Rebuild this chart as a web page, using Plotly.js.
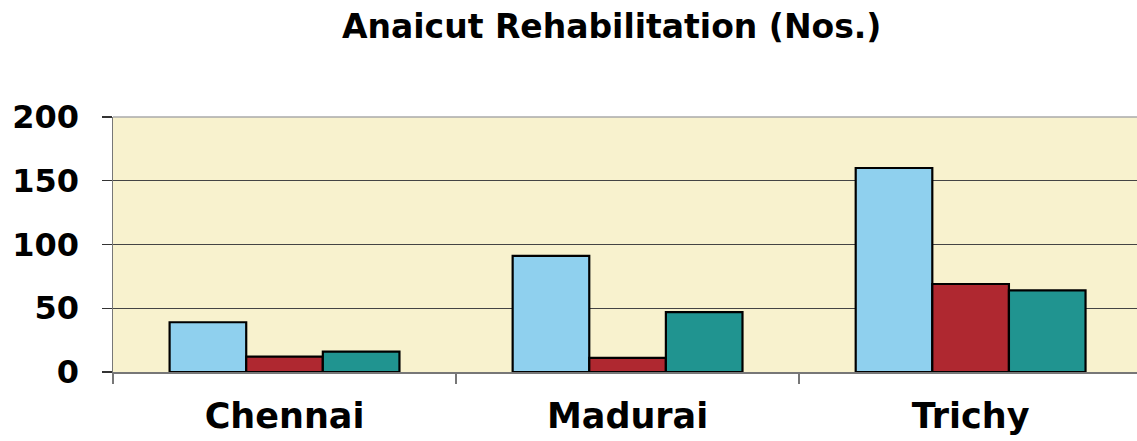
<!DOCTYPE html>
<html>
<head>
<meta charset="utf-8">
<script src="https://cdn.plot.ly/plotly-3.0.1.min.js"></script>
<style>
  html, body { margin: 0; padding: 0; background: #ffffff; }
  #chart { width: 1137px; height: 441px; }
</style>
</head>
<body>
<div id="chart"></div>
<script>
const categories = ["Chennai", "Madurai", "Trichy"];
const series1 = [39, 91, 160];
const series2 = [12, 11, 69];
const series3 = [16, 47, 64];
const yTicks = [0, 50, 100, 150, 200];

const colors = ["#8FD0EE", "#AF2830", "#209490"];
const seriesList = [series1, series2, series3];

const traces = seriesList.map((vals, i) => ({
  type: "bar",
  x: categories,
  y: vals,
  marker: { color: colors[i], line: { color: "#000000", width: 2.2 } },
  hoverinfo: "x+y",
  showlegend: false
}));

const layout = {
  width: 1137,
  height: 441,
  margin: { l: 113, r: 0, t: 117, b: 69 },
  paper_bgcolor: "#ffffff",
  plot_bgcolor: "#F8F2CE",
  barmode: "group",
  bargap: 0.33,
  bargroupgap: 0,
  title: {
    text: "Anaicut Rehabilitation (Nos.)",
    font: { family: "DejaVu Sans", size: 33, color: "#000000", weight: "bold" },
    x: 0.538, xanchor: "center",
    y: 0.94, yanchor: "middle"
  },
  xaxis: {
    type: "category",
    range: [-0.5, 2.485],
    showgrid: false,
    showline: true,
    linecolor: "#777777",
    linewidth: 1.5,
    ticks: "outside",
    tickson: "boundaries",
    ticklen: 10,
    tickcolor: "#777777",
    tickwidth: 1.5,
    ticklabelstandoff: 12,
    tickfont: { family: "DejaVu Sans", size: 35, color: "#000000", weight: "bold" },
    zeroline: false
  },
  yaxis: {
    range: [0, 200],
    tickvals: yTicks,
    ticktext: yTicks.map(String),
    showgrid: true,
    gridcolor: "#444444",
    gridwidth: 1.3,
    showline: true,
    linecolor: "#777777",
    linewidth: 1.5,
    ticks: "outside",
    ticklen: 10,
    tickcolor: "#333333",
    tickwidth: 1.3,
    ticklabelstandoff: 16,
    tickfont: { family: "DejaVu Sans", size: 32, color: "#000000", weight: "bold" },
    zeroline: false
  },
  shapes: [
    { type: "line", xref: "paper", yref: "paper", x0: 0, x1: 1, y0: 1, y1: 1,
      line: { color: "#aaaaaa", width: 1.5 } }
  ]
};

Plotly.newPlot("chart", traces, layout, { displayModeBar: false, staticPlot: true });
</script>
</body>
</html>
